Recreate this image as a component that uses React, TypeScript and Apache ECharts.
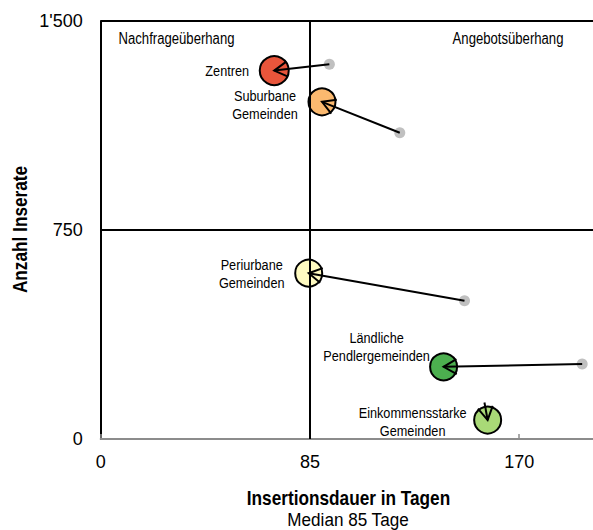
import React, { useEffect, useRef } from 'react';
import * as echarts from 'echarts';

// Data
const categories = ['Zentren', 'Suburbane Gemeinden', 'Periurbane Gemeinden', 'Ländliche Pendlergemeinden', 'Einkommensstarke Gemeinden'];
const labelTexts = ['Zentren', 'Suburbane\nGemeinden', 'Periurbane\nGemeinden', 'Ländliche\nPendlergemeinden', 'Einkommensstarke\nGemeinden'];
const currDauer = [70.5, 89.9, 84.5, 139.3, 157.2];
const currInserate = [1322, 1210, 595, 259, 68];
const prevDauer = [92.9, 121.5, 147.8, 195.6, 155.9];
const prevInserate = [1345, 1099, 496, 269, 131];
const medianDauer = 85;
const medianInserate = 750;
const xTicks = { min: 0, max: 200, interval: 85 };
const yTicks = { min: 0, max: 1500, interval: 750 };

// Styles
const colors = ['#e8553b', '#fbb96f', '#fffbc1', '#4caf4f', '#a9d977'];
const circleSizes = [29, 27, 27, 27, 27];
const prevDotVisible = [true, true, true, true, false];
const labelOffsets = [[-47, 0], [-57, 2.5], [-57, 0], [-67, -20], [-75, 1]];
const FONT = "'Liberation Sans', Arial, sans-serif";

function fmtThousands(v: number): string {
  if (v >= 1000) {
    return Math.floor(v / 1000) + "'" + String(v % 1000).padStart(3, '0');
  }
  return String(v);
}

function txt(text: string, x: number, y: number, size: number, bold = false, rotation = 0, scaleX = 0.82) {
  return {
    type: 'text',
    x,
    y,
    rotation,
    scaleX,
    silent: true,
    style: {
      text,
      fontSize: size,
      fontWeight: bold ? 'bold' : 'normal',
      fontFamily: FONT,
      fill: '#000',
      align: 'center',
      verticalAlign: 'middle',
      textAlign: 'center',
      textVerticalAlign: 'middle',
    },
  };
}

export default function App() {
  const ref = useRef<HTMLDivElement>(null);
  useEffect(() => {
    const chart = echarts.init(ref.current!, null, { renderer: 'svg' });
    const option: any = {
      animation: false,
      grid: { left: 100.7, top: 21, width: 495.3, height: 418 },
      xAxis: {
        type: 'value',
        min: xTicks.min,
        max: xTicks.max,
        interval: xTicks.interval,
        axisLine: { lineStyle: { color: '#8c8c8c', width: 2 } },
        axisTick: { inside: true, length: 5, lineStyle: { color: '#8c8c8c', width: 1.5 } },
        axisLabel: { showMaxLabel: false, margin: 14, fontSize: 18, color: '#000', fontFamily: FONT },
        splitLine: { show: false },
      },
      yAxis: {
        type: 'value',
        min: yTicks.min,
        max: yTicks.max,
        interval: yTicks.interval,
        axisLine: { show: true, lineStyle: { color: '#000', width: 2 } },
        axisTick: { show: false },
        axisLabel: { margin: 18, fontSize: 18, color: '#000', fontFamily: FONT, formatter: (v: number) => fmtThousands(v) },
        splitLine: { show: false },
      },
      series: [
        {
          name: 'Vorjahr',
          type: 'scatter',
          z: 1,
          symbolSize: 11,
          data: prevDauer.map((x, i) => ({
            value: [x, prevInserate[i]],
            itemStyle: { color: '#c0c0c0', opacity: prevDotVisible[i] ? 1 : 0 },
          })),
          markLine: {
            silent: true,
            symbol: 'none',
            label: { show: false },
            lineStyle: { color: '#000', width: 2, type: 'solid' },
            data: [{ xAxis: medianDauer }, { yAxis: medianInserate }, { yAxis: yTicks.max }],
          },
        },
        {
          name: 'Aktuell',
          type: 'scatter',
          z: 2,
          data: currDauer.map((x, i) => ({
            name: categories[i],
            value: [x, currInserate[i]],
            symbolSize: circleSizes[i],
            itemStyle: { color: colors[i], borderColor: '#000', borderWidth: 2, opacity: 1 },
          })),
        },
        {
          name: 'Pfeile',
          type: 'custom',
          z: 3,
          silent: true,
          encode: { x: [0, 2], y: [1, 3] },
          data: prevDauer.map((x, i) => [x, prevInserate[i], currDauer[i], currInserate[i]]),
          renderItem: (params: any, api: any) => {
            const i = params.dataIndex;
            const p0 = api.coord([api.value(0), api.value(1)]);
            const p1 = api.coord([api.value(2), api.value(3)]);
            const ang = Math.atan2(p0[1] - p1[1], p0[0] - p1[0]);
            const L = 15;
            const a = Math.PI / 6;
            const h1 = [p1[0] + L * Math.cos(ang + a), p1[1] + L * Math.sin(ang + a)];
            const h2 = [p1[0] + L * Math.cos(ang - a), p1[1] + L * Math.sin(ang - a)];
            const style = { stroke: '#000', lineWidth: 2, fill: null };
            return {
              type: 'group',
              children: [
                { type: 'line', shape: { x1: p0[0], y1: p0[1], x2: p1[0], y2: p1[1] }, style },
                { type: 'polyline', shape: { points: [h1, p1, h2] }, style },
                {
                  type: 'text',
                  x: p1[0] + labelOffsets[i][0],
                  y: p1[1] + labelOffsets[i][1],
                  scaleX: 0.82,
                  style: {
                    text: labelTexts[i],
                    fontSize: 15.5,
                    lineHeight: 18,
                    fontFamily: FONT,
                    fill: '#000',
                    align: 'center',
                    verticalAlign: 'middle',
                  },
                },
              ],
            };
          },
        },
      ],
      graphic: [
        txt('Nachfrageüberhang', 176.5, 39, 16),
        txt('Angebotsüberhang', 508, 39, 16),
        txt('Insertionsdauer in Tagen', 348.5, 498, 21, true),
        txt('Median 85 Tage', 348, 519.5, 19, false, 0, 0.9),
        txt('Anzahl Inserate', 20, 229.5, 21, true, Math.PI / 2),
      ],
    };
    chart.setOption(option);
    return () => chart.dispose();
  }, []);
  return <div ref={ref} style={{ position: 'absolute', left: 0, top: 0, width: 593, height: 530 }} />;
}
